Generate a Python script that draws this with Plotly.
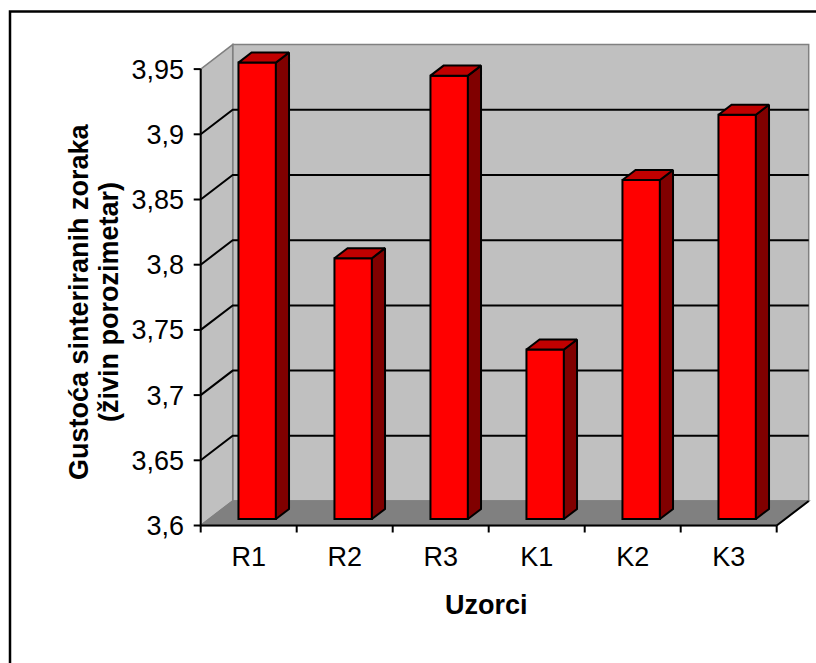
import plotly.graph_objects as go

# ---------------- data ----------------
categories = ["R1", "R2", "R3", "K1", "K2", "K3"]
values = [3.95, 3.80, 3.94, 3.73, 3.86, 3.91]
y_ticks = [3.6, 3.65, 3.7, 3.75, 3.8, 3.85, 3.9, 3.95]
y_tick_labels = ["3,6", "3,65", "3,7", "3,75", "3,8", "3,85", "3,9", "3,95"]
x_title = "Uzorci"
y_title_lines = ["Gustoća sinteriranih zoraka", "(živin porozimetar)"]

# ---------------- geometry (pixels -> axis units) ----------------
W, H = 816, 663
PX_X0 = 200.7      # pixel of front-left corner (x = -0.5)
PX_PER_X = 96.0
PX_Y0 = 525.5      # pixel of value 3.6 on the front axis
PX_PER_Y = 1304.0
L, R, T, B = 188, 813, 42, 535
x_range = [-0.5 - (PX_X0 - L) / PX_PER_X, -0.5 + (R - PX_X0) / PX_PER_X]
y_range = [y_ticks[0] - (B - PX_Y0) / PX_PER_Y, y_ticks[0] + (PX_Y0 - T) / PX_PER_Y]

DX = 32 / PX_PER_X          # 3D depth offset, x
DY = 24.5 / PX_PER_Y        # 3D depth offset, y
F = 0.265                   # depth fraction of bar front face
BD = 0.41                   # bar depth fraction
BW = 0.39                   # bar width

base = y_ticks[0]
top = y_ticks[-1]
n = len(categories)
xl, xr = -0.5, n - 0.5


def px2paper(px, py):
    return (px - L) / (R - L), (B - py) / (B - T)


FONT = "Arial, Liberation Sans, sans-serif"
FS = 27
WALL = "#C0C0C0"
EDGE = "#808080"

shapes = []
# back wall
shapes.append(dict(type="rect", xref="x", yref="y", x0=xl + DX, x1=xr + DX,
                   y0=base + DY, y1=top + DY, fillcolor=WALL,
                   line=dict(color=EDGE, width=1.5), layer="below"))
# left wall
shapes.append(dict(type="path", xref="x", yref="y",
                   path=f"M {xl},{base} L {xl+DX},{base+DY} L {xl+DX},{top+DY} L {xl},{top} Z",
                   fillcolor=WALL, line=dict(color=EDGE, width=1.5), layer="below"))
# floor
shapes.append(dict(type="path", xref="x", yref="y",
                   path=f"M {xl},{base} L {xr},{base} L {xr+DX},{base+DY} L {xl+DX},{base+DY} Z",
                   fillcolor="#808080", line=dict(color=EDGE, width=1.5), layer="below"))
# gridlines on walls
for v in y_ticks[1:-1]:
    shapes.append(dict(type="path", xref="x", yref="y",
                       path=f"M {xl},{v} L {xl+DX},{v+DY} L {xr+DX},{v+DY}",
                       line=dict(color="black", width=2), layer="below"))
# front axes
AX = dict(color="black", width=2)
shapes.append(dict(type="line", xref="x", yref="y", x0=xl, x1=xl, y0=base, y1=top, line=AX))
for v in y_ticks:
    shapes.append(dict(type="line", xref="x", yref="y", x0=xl - 7 / PX_PER_X, x1=xl,
                       y0=v, y1=v, line=AX))
shapes.append(dict(type="line", xref="x", yref="y", x0=xl, x1=xr, y0=base, y1=base, line=AX))
for k in range(n + 1):
    shapes.append(dict(type="line", xref="x", yref="y", x0=k - 0.5, x1=k - 0.5,
                       y0=base, y1=base - 7 / PX_PER_Y, line=AX))
shapes.append(dict(type="line", xref="x", yref="y", x0=xr, x1=xr + DX,
                   y0=base, y1=base + DY, line=AX))
# outer chart border
bx0, by0 = px2paper(10, 11.5)
bx1, by1 = px2paper(840, 700)
shapes.append(dict(type="rect", xref="paper", yref="paper", x0=bx0, x1=bx1, y0=by1, y1=by0,
                   line=dict(color="black", width=2.5), fillcolor="rgba(0,0,0,0)"))

fig = go.Figure()

# front faces of bars
xs_front = [i + F * DX for i in range(n)]
fig.add_trace(go.Bar(
    x=xs_front, y=[v - base for v in values], base=base + F * DY, width=BW,
    marker=dict(color="#FF0000", line=dict(color="black", width=2)),
    hoverinfo="skip", showlegend=False))

# side and top faces
side_x, side_y, top_x, top_y = [], [], [], []
for i, v in enumerate(values):
    x0 = i + F * DX - BW / 2
    x1 = i + F * DX + BW / 2
    yb = base + F * DY
    yt = v + F * DY
    ddx, ddy = BD * DX, BD * DY
    side_x += [x1, x1 + ddx, x1 + ddx, x1, x1, None]
    side_y += [yb, yb + ddy, yt + ddy, yt, yb, None]
    top_x += [x0, x1, x1 + ddx, x0 + ddx, x0, None]
    top_y += [yt, yt, yt + ddy, yt + ddy, yt, None]

fig.add_trace(go.Scatter(x=side_x, y=side_y, mode="lines", fill="toself",
                         fillcolor="#800000", line=dict(color="black", width=2),
                         hoverinfo="skip", showlegend=False))
fig.add_trace(go.Scatter(x=top_x, y=top_y, mode="lines", fill="toself",
                         fillcolor="#C00000", line=dict(color="black", width=2),
                         hoverinfo="skip", showlegend=False))

ax_x, ax_y = px2paper(486, 605)
l1_x, l1_y = px2paper(79, 302)
l2_x, l2_y = px2paper(109, 302)

fig.update_layout(
    width=W, height=H,
    margin=dict(l=L, r=W - R, t=T, b=H - B),
    paper_bgcolor="white", plot_bgcolor="white",
    showlegend=False,
    shapes=shapes,
    xaxis=dict(range=x_range, tickvals=list(range(n)), ticktext=categories,
               showgrid=False, zeroline=False, showline=False, ticks="",
               ticklabelstandoff=3,
               tickfont=dict(family=FONT, size=FS, color="black")),
    yaxis=dict(range=y_range, tickvals=y_ticks, ticktext=y_tick_labels,
               showgrid=False, zeroline=False, showline=False, ticks="",
               ticklabelstandoff=3,
               tickfont=dict(family=FONT, size=FS, color="black")),
    annotations=[
        dict(text=f"<b>{x_title}</b>", xref="paper", yref="paper", x=ax_x, y=ax_y,
             xanchor="center", yanchor="middle", showarrow=False,
             font=dict(family=FONT, size=FS, color="black")),
        dict(text=f"<b>{y_title_lines[0]}</b>", xref="paper", yref="paper", x=l1_x, y=l1_y,
             xanchor="center", yanchor="middle", showarrow=False, textangle=-90,
             font=dict(family=FONT, size=FS, color="black")),
        dict(text=f"<b>{y_title_lines[1]}</b>", xref="paper", yref="paper", x=l2_x, y=l2_y,
             xanchor="center", yanchor="middle", showarrow=False, textangle=-90,
             font=dict(family=FONT, size=FS, color="black")),
    ],
)

fig.write_html("out.html", config={"displayModeBar": False},
               post_script="document.body.style.margin='0';")
